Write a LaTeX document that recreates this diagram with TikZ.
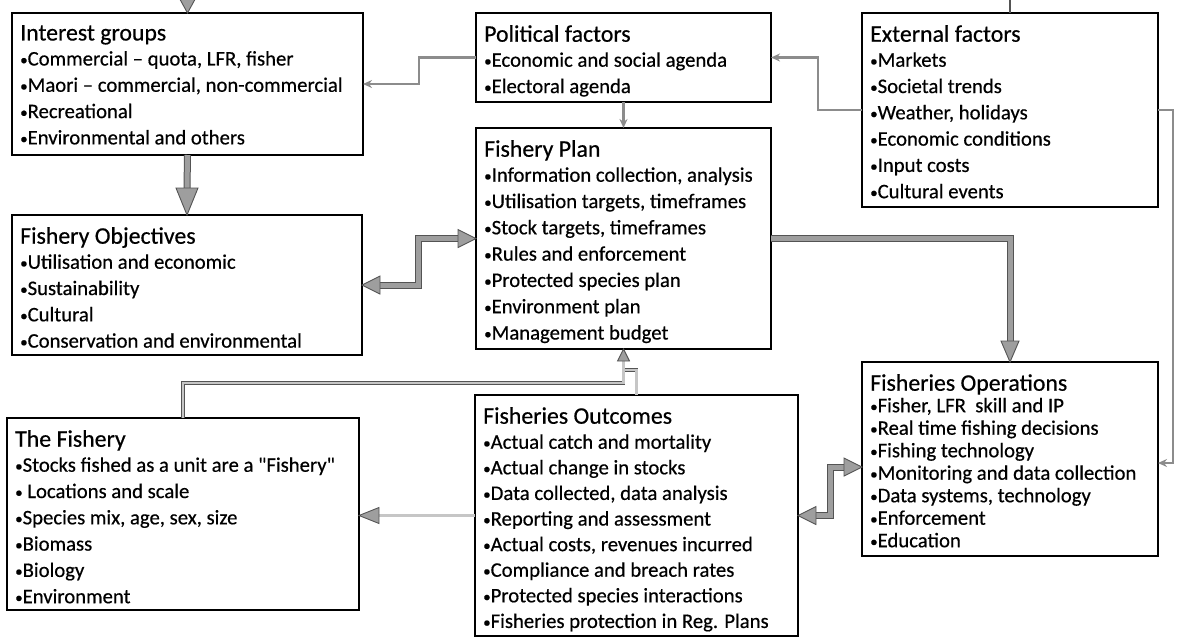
\documentclass[tikz,border=0pt]{standalone}
\usepackage{fontspec}
\setmainfont{Carlito}[Ligatures=TeXOff, FakeBold=0.5]
\usetikzlibrary{calc,arrows.meta}
\definecolor{shaftgray}{gray}{0.62}
\definecolor{edgegray}{gray}{0.33}
\definecolor{linegray}{gray}{0.55}
\tikzset{
  panel/.style={draw=black, line width=1.1pt, inner sep=0pt, outer sep=0pt, anchor=north west},
  txt/.style={anchor=north west, align=left, inner sep=0pt, font=\fontsize{20.7}{#1}\selectfont},
  thick shaft/.style={draw=edgegray, line width=1pt, double=shaftgray, double distance=5pt, line join=miter},
  thin link/.style={draw=linegray, line width=2.2pt, -{Stealth[length=9pt,width=8pt]}},
  dbl link/.style={draw=edgegray, line width=0.7pt, double=gray!45, double distance=2.4pt, line join=miter},
  bhead/.style={fill=shaftgray, draw=edgegray, line width=0.9pt, line join=miter},
}
\newcommand\blockhead[4]{%
  \begin{scope}[shift={(#1)}, rotate=#2]
    \filldraw[bhead] (0,0) -- (-#3,#4) -- (-#3,-#4) -- cycle;
  \end{scope}}
\newcommand\boxtitle[1]{{\fontsize{23.8}{26}\selectfont #1}}
\newcommand\bu{\raisebox{0.6pt}{\fontsize{15}{15}\selectfont •}}
\begin{document}
\begin{tikzpicture}[x=1pt, y=-1pt]
\useasboundingbox (0,0) rectangle (1181,641);
\clip (0,0) rectangle (1181,641);

% boxes
\node[panel, minimum width=351pt, minimum height=142pt] (ig) at (12,13) {};
\node[panel, minimum width=295pt, minimum height=89pt] (pf) at (476,13) {};
\node[panel, minimum width=296pt, minimum height=194pt] (ef) at (862,13) {};
\node[panel, minimum width=350pt, minimum height=140pt] (obj) at (12,215) {};
\node[panel, minimum width=295pt, minimum height=221pt] (plan) at (476,128) {};
\node[panel, minimum width=296pt, minimum height=194pt] (ops) at (862,362) {};
\node[panel, minimum width=352pt, minimum height=192pt] (fish) at (7,418) {};
\node[panel, minimum width=323pt, minimum height=241pt] (out) at (475,395) {};

% texts
\node[txt=26.3] (igt) at ($(ig.north west)+(8,12)$) {\boxtitle{Interest groups}\\[-1.3pt]
\bu Commercial – quota, LFR, fisher\\ \bu Maori – commercial, non-commercial\\ \bu Recreational\\ \bu Environmental and others};
\node[txt=26.3] (pft) at ($(pf.north west)+(8,12)$) {\boxtitle{Political factors}\\[-1.3pt]
\bu Economic and social agenda\\ \bu Electoral agenda};
\node[txt=26.3] (eft) at ($(ef.north west)+(8,12)$) {\boxtitle{External factors}\\[-1.3pt]
\bu Markets\\ \bu Societal trends\\ \bu Weather, holidays\\ \bu Economic conditions\\ \bu Input costs\\ \bu Cultural events};
\node[txt=26.3] (objt) at ($(obj.north west)+(8,12)$) {\boxtitle{Fishery Objectives}\\[-1.3pt]
\bu Utilisation and economic\\ \bu Sustainability\\ \bu Cultural\\ \bu Conservation and environmental};
\node[txt=26.3] (plant) at ($(plan.north west)+(8,12)$) {\boxtitle{Fishery Plan}\\[-1.3pt]
\bu Information collection, analysis\\ \bu Utilisation targets, timeframes\\ \bu Stock targets, timeframes\\ \bu Rules and enforcement\\ \bu Protected species plan\\ \bu Environment plan\\ \bu Management budget};
\node[txt=22.5] (opst) at ($(ops.north west)+(8,12)$) {\boxtitle{Fisheries Operations}\\[-1pt]
\bu Fisher, LFR~ skill and IP\\ \bu Real time fishing decisions\\ \bu Fishing technology\\ \bu Monitoring and data collection\\ \bu Data systems, technology\\ \bu Enforcement\\ \bu Education};
\node[txt=26.3] (fisht) at ($(fish.north west)+(8,12)$) {\boxtitle{The Fishery}\\[-1.3pt]
\bu Stocks fished as a unit are a "Fishery"\\ \bu{} Locations and scale\\ \bu Species mix, age, sex, size\\ \bu Biomass\\ \bu Biology\\ \bu Environment};
\node[txt=25.6] (outt) at ($(out.north west)+(8,12)$) {\boxtitle{Fisheries Outcomes}\\[-0.6pt]
\bu Actual catch and mortality\\ \bu Actual change in stocks\\ \bu Data collected, data analysis\\ \bu Reporting and assessment\\ \bu Actual costs, revenues incurred\\ \bu Compliance and breach rates\\ \bu Protected species interactions\\ \bu Fisheries protection in Reg. Plans};

% incoming arrow from above into Interest groups
\draw[thick shaft] ($(ig.north)+(0,-45)$) -- ($(ig.north)+(0,-19)$);
\blockhead{ig.north}{-90}{20}{11}
% line from above into External factors
\draw[draw=edgegray, line width=1.6pt] (ef.north) -- ++(0,-20);

% Interest groups -> Objectives
\draw[thick shaft] (ig.south) -- ($(obj.north)+(0,-26)$);
\blockhead{obj.north}{-90}{27}{11}

% Political -> Interest groups
\draw[thin link] (pf.west) -- ++(-57,0) |- (ig.east);
% External -> Political
\draw[thin link] (ef.west) -- ++(-44,0) |- (pf.east);
% External -> Operations
\coordinate (opsin) at ($(ops.east)+(0,4)$);
\draw[thin link] (ef.east) -- ++(15,0) |- (opsin);
% Political -> Plan
\draw[thin link] (pf.south) -- (plan.north);

% Objectives <-> Plan
\draw[thick shaft] ($(obj.east)+(17,0)$) -- ++(39,0) |- ($(plan.west)+(-17,0)$);
\blockhead{obj.east}{180}{18}{9}
\blockhead{plan.west}{0}{18}{9}

% Plan -> Operations
\draw[thick shaft] (plan.east) -| ($(ops.north)+(0,-20)$);
\blockhead{ops.north}{-90}{21}{9}

% Outcomes <-> Operations
\coordinate (opsl) at ($(ops.west)+(0,8)$);
\draw[thick shaft] ($(out.east)+(17,0)$) -- ++(15,0) |- ($(opsl)+(-17,0)$);
\blockhead{out.east}{180}{18}{9}
\blockhead{opsl}{0}{18}{9}

% Outcomes -> Fishery
\coordinate (fishin) at (out.west -| fish.east);
\draw[dbl link] (out.west) -- ($(fishin)+(19,0)$);
\blockhead{fishin}{180}{20}{8}

% Fishery -> Plan, Outcomes -> Plan
\coordinate (j1) at ($(plan.south)+(0,34)$);
\coordinate (j2) at ($(plan.south)+(0,21)$);
\draw[dbl link] (out.north) |- (j2);
\draw[dbl link] (fish.north) |- (j1) -- ($(plan.south)+(0,11)$);
\blockhead{plan.south}{90}{12}{6}
\end{tikzpicture}
\end{document}
